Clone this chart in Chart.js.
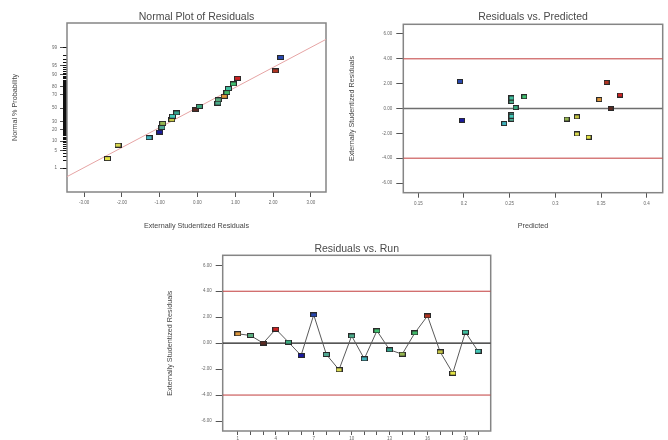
<!DOCTYPE html>
<html><head><meta charset="utf-8">
<script src="https://cdn.jsdelivr.net/npm/chart.js@4/dist/chart.umd.min.js"></script>
<style>
html,body{margin:0;padding:0;background:#fff;overflow:hidden;width:668px;height:440px;}
canvas{position:absolute;}
</style></head><body>
<canvas id="c1" width="340" height="235" style="left:0px;top:0px;width:340px;height:235px"></canvas>
<canvas id="c2" width="328" height="235" style="left:340px;top:0px;width:328px;height:235px"></canvas>
<canvas id="c3" width="350" height="205" style="left:150px;top:235px;width:350px;height:205px"></canvas>
<script>
// ---------- data ----------
const runs = [1,2,3,4,5,6,7,8,9,10,11,12,13,14,15,16,17,18,19,20];
const residuals = [0.72,0.59,0.00,1.08,0.08,-0.95,2.18,-0.87,-2.05,0.56,-1.21,0.95,-0.51,-0.85,0.79,2.10,-0.67,-2.31,0.85,-0.62];
const predicted = [0.348,0.252,0.3605,0.3707,0.2566,0.1978,0.1956,0.252,0.3236,0.252,0.244,0.266,0.252,0.3124,0.252,0.3561,0.3236,0.3364,0.252,0.252];
const runColors = ['#dc963c','#5aae80','#5a2a22','#cc2222','#3aa87e','#1a1aa0','#2848b0','#50a892','#d8d850','#4aaa8a',
                   '#40b2bc','#40c070','#34a48e','#94b450','#40b868','#b03422','#c4c444','#e2e244','#40c0a0','#44c8b8'];
// normal plot (residual, normal % probability, run id)
const normResid = [-2.38,-2.10,-1.28,-1.00,-0.94,-0.92,-0.68,-0.66,-0.55,-0.05,0.05,0.54,0.55,0.71,0.78,0.82,0.95,1.06,2.06,2.20];
const normProb  = [2.5,7.5,12.5,17.5,22.5,27.5,32.5,37.5,42.5,47.5,52.5,57.5,62.5,67.5,72.5,77.5,82.5,87.5,92.5,97.5];
const normRun   = [18,9,11,6,8,14,17,20,13,3,5,10,2,1,15,19,12,4,16,7];
const refLineResid = [-3.45, 3.40];
const refLineProb  = [0.39, 99.61];
const limitValues = [4, -4];
const zeroValue = 0;
// tick labels
const residTicks = [-6,-4,-2,0,2,4,6];
const normXTicks = [-3,-2,-1,0,1,2,3];
const predTicks = [0.15,0.2,0.25,0.3,0.35,0.4];
const normYLabels = [1,5,10,20,30,50,70,80,90,95,99];
const runLabels = [1,4,7,10,13,16,19];

// ---------- helpers ----------
Chart.defaults.font.family = "'Liberation Sans', Arial, sans-serif";
function probit(p){
 const a=[-3.969683028665376e+01,2.209460984245205e+02,-2.759285104469687e+02,1.383577518672690e+02,-3.066479806614716e+01,2.506628277459239e+00];
 const b=[-5.447609879822406e+01,1.615858368580409e+02,-1.556989798598866e+02,6.680131188771972e+01,-1.328068155288572e+01];
 const c=[-7.784894002430293e-03,-3.223964580411365e-01,-2.400758277161838e+00,-2.549732539343734e+00,4.374664141464968e+00,2.938163982698783e+00];
 const d=[7.784695709041462e-03,3.224671290700398e-01,2.445134137142996e+00,3.754408661907416e+00];
 const pl=0.02425, ph=1-pl; let q,r;
 if(p<pl){q=Math.sqrt(-2*Math.log(p));return (((((c[0]*q+c[1])*q+c[2])*q+c[3])*q+c[4])*q+c[5])/((((d[0]*q+d[1])*q+d[2])*q+d[3])*q+1);}
 if(p<=ph){q=p-0.5;r=q*q;return (((((a[0]*r+a[1])*r+a[2])*r+a[3])*r+a[4])*r+a[5])*q/(((((b[0]*r+b[1])*r+b[2])*r+b[3])*r+b[4])*r+1);}
 q=Math.sqrt(-2*Math.log(1-p));return -(((((c[0]*q+c[1])*q+c[2])*q+c[3])*q+c[4])*q+c[5])/((((d[0]*q+d[1])*q+d[2])*q+d[3])*q+1);
}
function marker(color,w,h){
  const cv=document.createElement('canvas'); cv.width=w; cv.height=h;
  const g=cv.getContext('2d');
  g.fillStyle='#2a2a2a'; g.fillRect(0,0,w,h);
  g.fillStyle=color; g.fillRect(1,1,w-2,h-2);
  return cv;
}
const mk7 = runColors.map(c=>marker(c,7,5));
const mk6 = runColors.map(c=>marker(c,6,5));
const frame = {id:'frame', beforeDatasetsDraw(chart){
  const a=chart.chartArea, g=chart.ctx; g.save(); g.strokeStyle='#858585'; g.lineWidth=1.5;
  g.strokeRect(a.left,a.top,a.right-a.left,a.bottom-a.top); g.restore(); }};
const titleFont = {family:"'Liberation Sans', Arial, sans-serif", size:10.5, weight:'normal'};
const axTitleFont = {family:"'Liberation Sans', Arial, sans-serif", size:7.2};
const tickFont = {family:"'Liberation Sans', Arial, sans-serif", size:4.5};
const base = {responsive:false, animation:false, devicePixelRatio:1};
function setTicks(vals){ return s=>{ s.ticks = vals.map(v=>({value:v})); }; }
function hline(v, xmin, xmax, color, w){
  return {type:'line', data:[{x:xmin,y:v},{x:xmax,y:v}], borderColor:color, borderWidth:w, pointRadius:0, order:2};
}

// ---------- Panel 1: Normal plot ----------
const pctTicks = []; for(let p=1;p<=99;p++) pctTicks.push(p);
new Chart(document.getElementById('c1'), {
  type:'scatter',
  data:{datasets:[
    {type:'line', data: refLineResid.map((x,i)=>({x, y: probit(refLineProb[i]/100)})), borderColor:'#e6a4a4', borderWidth:1, pointRadius:0, order:2},
    {data: normResid.map((x,i)=>({x, y: probit(normProb[i]/100)})), pointStyle: ctx=>mk7[normRun[ctx.dataIndex]-1], pointRadius:4, order:0}
  ]},
  options:Object.assign({}, base, {
    layout:{padding:{left:0,right:14,top:0,bottom:0}},
    plugins:{legend:{display:false}, tooltip:{enabled:false},
      title:{display:true, text:'Normal Plot of Residuals', fullSize:false, font:titleFont, color:'#4a4a4a', padding:{top:10.4,bottom:0}}},
    scales:{
      x:{type:'linear', min:-3.45, max:3.40, afterBuildTicks:setTicks(normXTicks), afterFit:s=>{s.height=43;},
         grid:{drawOnChartArea:false, tickLength:5, tickColor:'#555'}, border:{display:false},
         ticks:{font:tickFont, color:'#666', padding:3, autoSkip:false, maxRotation:0, callback:v=>v.toFixed(2)},
         title:{display:true, text:'Externally Studentized Residuals', font:axTitleFont, color:'#444', padding:{top:0,bottom:4.8}}},
      y:{type:'linear', position:'left', weight:1, min:-3.256, max:3.295,
         afterBuildTicks:setTicks(normYLabels.map(p=>probit(p/100))), afterFit:s=>{s.width=67;},
         grid:{drawOnChartArea:false, tickLength:7, tickColor:'#555'}, border:{display:false},
         ticks:{font:tickFont, color:'#666', padding:3, autoSkip:false, callback:(v,i)=>String(normYLabels[i])},
         title:{display:true, text:'Normal % Probability', font:axTitleFont, color:'#444', padding:{top:10.8,bottom:0}}},
      y2:{type:'linear', position:'left', weight:0, min:-3.256, max:3.295,
         afterBuildTicks:setTicks(pctTicks.map(p=>probit(p/100))), afterFit:s=>{s.width=0;},
         grid:{drawOnChartArea:false, tickLength:4, tickColor:'#111', tickWidth:1}, border:{display:false},
         ticks:{display:false, autoSkip:false}}
    }
  }),
  plugins:[frame]
});

// ---------- Panel 2: Residuals vs Predicted ----------
const pxMin=0.1336, pxMax=0.4175;
new Chart(document.getElementById('c2'), {
  type:'scatter',
  data:{datasets:[
    hline(limitValues[0], pxMin, pxMax, '#c23c3c', 1),
    hline(limitValues[1], pxMin, pxMax, '#c23c3c', 1),
    hline(zeroValue, pxMin, pxMax, '#6e6e6e', 1.5),
    {data: predicted.map((x,i)=>({x, y: residuals[i]})), pointStyle: ctx=>mk6[ctx.dataIndex], pointRadius:4, order:0}
  ]},
  options:Object.assign({}, base, {
    layout:{padding:{left:0,right:5.3,top:0,bottom:0}},
    plugins:{legend:{display:false}, tooltip:{enabled:false},
      title:{display:true, text:'Residuals vs. Predicted', fullSize:false, font:titleFont, color:'#4a4a4a', padding:{top:11,bottom:0.7}}},
    scales:{
      x:{type:'linear', min:pxMin, max:pxMax, afterBuildTicks:setTicks(predTicks), afterFit:s=>{s.height=42.3;},
         grid:{drawOnChartArea:false, tickLength:5, tickColor:'#555'}, border:{display:false},
         ticks:{font:tickFont, color:'#666', padding:3, autoSkip:false, maxRotation:0, callback:v=>String(v)},
         title:{display:true, text:'Predicted', font:axTitleFont, color:'#444', padding:{top:0,bottom:4.8}}},
      y:{type:'linear', min:-6.78, max:6.78, afterBuildTicks:setTicks(residTicks), afterFit:s=>{s.width=63.3;},
         grid:{drawOnChartArea:false, tickLength:7, tickColor:'#555'}, border:{display:false},
         ticks:{font:tickFont, color:'#666', padding:4, autoSkip:false, callback:v=>v.toFixed(2)},
         title:{display:true, text:'Externally Studentized Residuals', font:axTitleFont, color:'#444', padding:{top:8.1,bottom:0}}}
    }
  }),
  plugins:[frame]
});

// ---------- Panel 3: Residuals vs Run ----------
const rxMin=-0.2, rxMax=21;
new Chart(document.getElementById('c3'), {
  type:'scatter',
  data:{datasets:[
    hline(limitValues[0], rxMin, rxMax, '#c23c3c', 1),
    hline(limitValues[1], rxMin, rxMax, '#c23c3c', 1),
    hline(zeroValue, rxMin, rxMax, '#1e1e1e', 1.2),
    {type:'line', data: runs.map((x,i)=>({x, y: residuals[i]})), borderColor:'#5a5a5a', borderWidth:1,
     pointStyle: ctx=>mk7[ctx.dataIndex], pointRadius:4, order:0}
  ]},
  options:Object.assign({}, base, {
    layout:{padding:{left:0,right:9.3,top:0,bottom:0}},
    plugins:{legend:{display:false}, tooltip:{enabled:false},
      title:{display:true, text:'Residuals vs. Run', fullSize:false, font:titleFont, color:'#4a4a4a', padding:{top:7.7,bottom:0}}},
    scales:{
      x:{type:'linear', min:rxMin, max:rxMax, afterBuildTicks:setTicks(runs), afterFit:s=>{s.height=9;},
         grid:{drawOnChartArea:false, tickLength:4, tickColor:'#555'}, border:{display:false},
         ticks:{font:tickFont, color:'#666', padding:1, autoSkip:false, maxRotation:0, callback:v=>runLabels.includes(v)?String(v):''}},
      y:{type:'linear', min:-6.77, max:6.77, afterBuildTicks:setTicks(residTicks), afterFit:s=>{s.width=72.7;},
         grid:{drawOnChartArea:false, tickLength:7, tickColor:'#555'}, border:{display:false},
         ticks:{font:tickFont, color:'#666', padding:4, autoSkip:false, callback:v=>v.toFixed(2)},
         title:{display:true, text:'Externally Studentized Residuals', font:axTitleFont, color:'#444', padding:{top:15.8,bottom:0}}}
    }
  }),
  plugins:[frame]
});
</script>
</body></html>
